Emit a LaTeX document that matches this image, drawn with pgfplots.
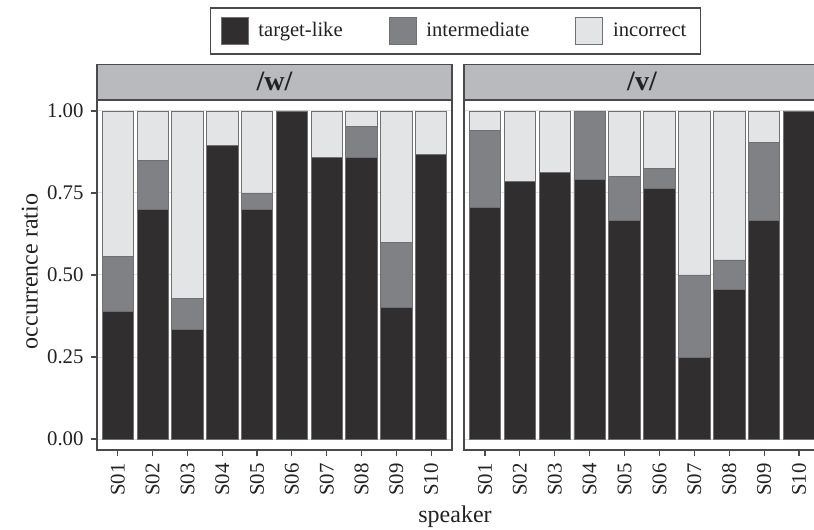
\documentclass[border=0pt]{standalone}
\usepackage{pgfplots}
\pgfplotsset{compat=1.18}
\usepackage{fontspec}
\setmainfont{Liberation Serif}
\definecolor{cdark}{HTML}{302E2F}
\definecolor{cmid}{HTML}{808184}
\definecolor{clight}{HTML}{E3E4E6}
\definecolor{cstrip}{HTML}{B9BABD}
\definecolor{cedge}{HTML}{707072}
\definecolor{cgrid}{HTML}{E0E0E0}
\definecolor{cframe}{HTML}{4A4A4A}
\definecolor{ctext}{HTML}{222222}

\pgfplotstableread{
x dark mid light
0 0.389 0.167 0.444
1 0.700 0.150 0.150
2 0.333 0.095 0.572
3 0.895 0.000 0.105
4 0.700 0.050 0.250
5 1.000 0.000 0.000
6 0.857 0.000 0.143
7 0.857 0.095 0.048
8 0.400 0.200 0.400
9 0.867 0.000 0.133
}\tabw
\pgfplotstableread{
x dark mid light
0 0.706 0.235 0.059
1 0.786 0.000 0.214
2 0.812 0.000 0.188
3 0.792 0.208 0.000
4 0.667 0.133 0.200
5 0.765 0.059 0.176
6 0.250 0.250 0.500
7 0.455 0.091 0.454
8 0.667 0.238 0.095
9 1.000 0.000 0.000
}\tabv

\pgfplotsset{
  sqlegend/.style={legend image code/.code={\draw[##1] (0pt,-6.75pt) rectangle (13.5pt,6.75pt);}},
  panel/.style={
    scale only axis, width=177.5pt, height=175pt,
    anchor=south west,
    ybar stacked, bar width=0.9,
    xmin=-0.6, xmax=9.6, ymin=-0.0335, ymax=1.0335,
    xtick={0,...,9},
    xticklabels={S01,S02,S03,S04,S05,S06,S07,S08,S09,S10},
    xticklabel style={rotate=90, anchor=east, font=\fontsize{10.4}{12}\selectfont, text=ctext},
    ytick={0,0.25,0.5,0.75,1},
    yticklabel style={/pgf/number format/fixed, /pgf/number format/fixed zerofill, /pgf/number format/precision=2, /pgf/number format/assume math mode=true, font=\fontsize{10.4}{12}\selectfont, text=ctext},
    tick align=outside, xtick pos=lower, ytick pos=left,
    major tick length=3.2pt,
    tick style={cframe, line width=0.6pt},
    axis line style={cframe, line width=0.6pt},
    ymajorgrids, major grid style={cgrid, line width=0.5pt},
    clip=false,
    every axis plot/.append style={draw=cedge, line width=0.4pt},
  }
}

\begin{document}
\begin{tikzpicture}
\begin{axis}[panel, at={(48.5pt,40pt)},
  ylabel={occurrence ratio},
  ylabel style={at={(axis description cs:-0.189,0.51)}, anchor=center, font=\fontsize{12}{14}\selectfont, text=ctext},
  xlabel={speaker},
  xlabel style={at={(axis description cs:1.0085,-0.191)}, anchor=center, font=\fontsize{12}{14}\selectfont, text=ctext},
  legend columns=3,
  legend style={at={(axis description cs:1.0099,1.197)}, anchor=center,
    draw=cframe, line width=0.7pt, fill=white,
    font=\fontsize{10.3}{12}\selectfont, text=ctext,
    inner xsep=5pt, inner ysep=4.5pt,
    nodes={inner sep=2pt},
    /tikz/every odd column/.append style={column sep=3pt},
    /tikz/every even column/.append style={column sep=21pt}},
  legend cell align=left,
]
\addplot[fill=cdark, sqlegend] table[x=x, y=dark] {\tabw};
\addlegendentry{target-like}
\addplot[fill=cmid, sqlegend] table[x=x, y=mid] {\tabw};
\addlegendentry{intermediate}
\addplot[fill=clight, sqlegend] table[x=x, y=light] {\tabw};
\addlegendentry{incorrect}
\node[fill=cstrip, draw=cframe, line width=0.6pt, minimum width=177.5pt, minimum height=17.5pt, inner sep=0pt, anchor=south, font=\bfseries\fontsize{14}{14}\selectfont, text=ctext] at (rel axis cs:0.5,1) {/w/};
\end{axis}

\begin{axis}[panel, at={(232pt,40pt)}, width=178pt,
  yticklabels={}, ytick style={draw=none},
]
\addplot[fill=cdark] table[x=x, y=dark] {\tabv};
\addplot[fill=cmid] table[x=x, y=mid] {\tabv};
\addplot[fill=clight] table[x=x, y=light] {\tabv};
\node[fill=cstrip, draw=cframe, line width=0.6pt, minimum width=178pt, minimum height=17.5pt, inner sep=0pt, anchor=south, font=\bfseries\fontsize{14}{14}\selectfont, text=ctext] at (rel axis cs:0.5,1) {/v/};
\end{axis}
\pgfresetboundingbox
\useasboundingbox (0,0) rectangle (407pt,265pt);
\end{tikzpicture}
\end{document}
